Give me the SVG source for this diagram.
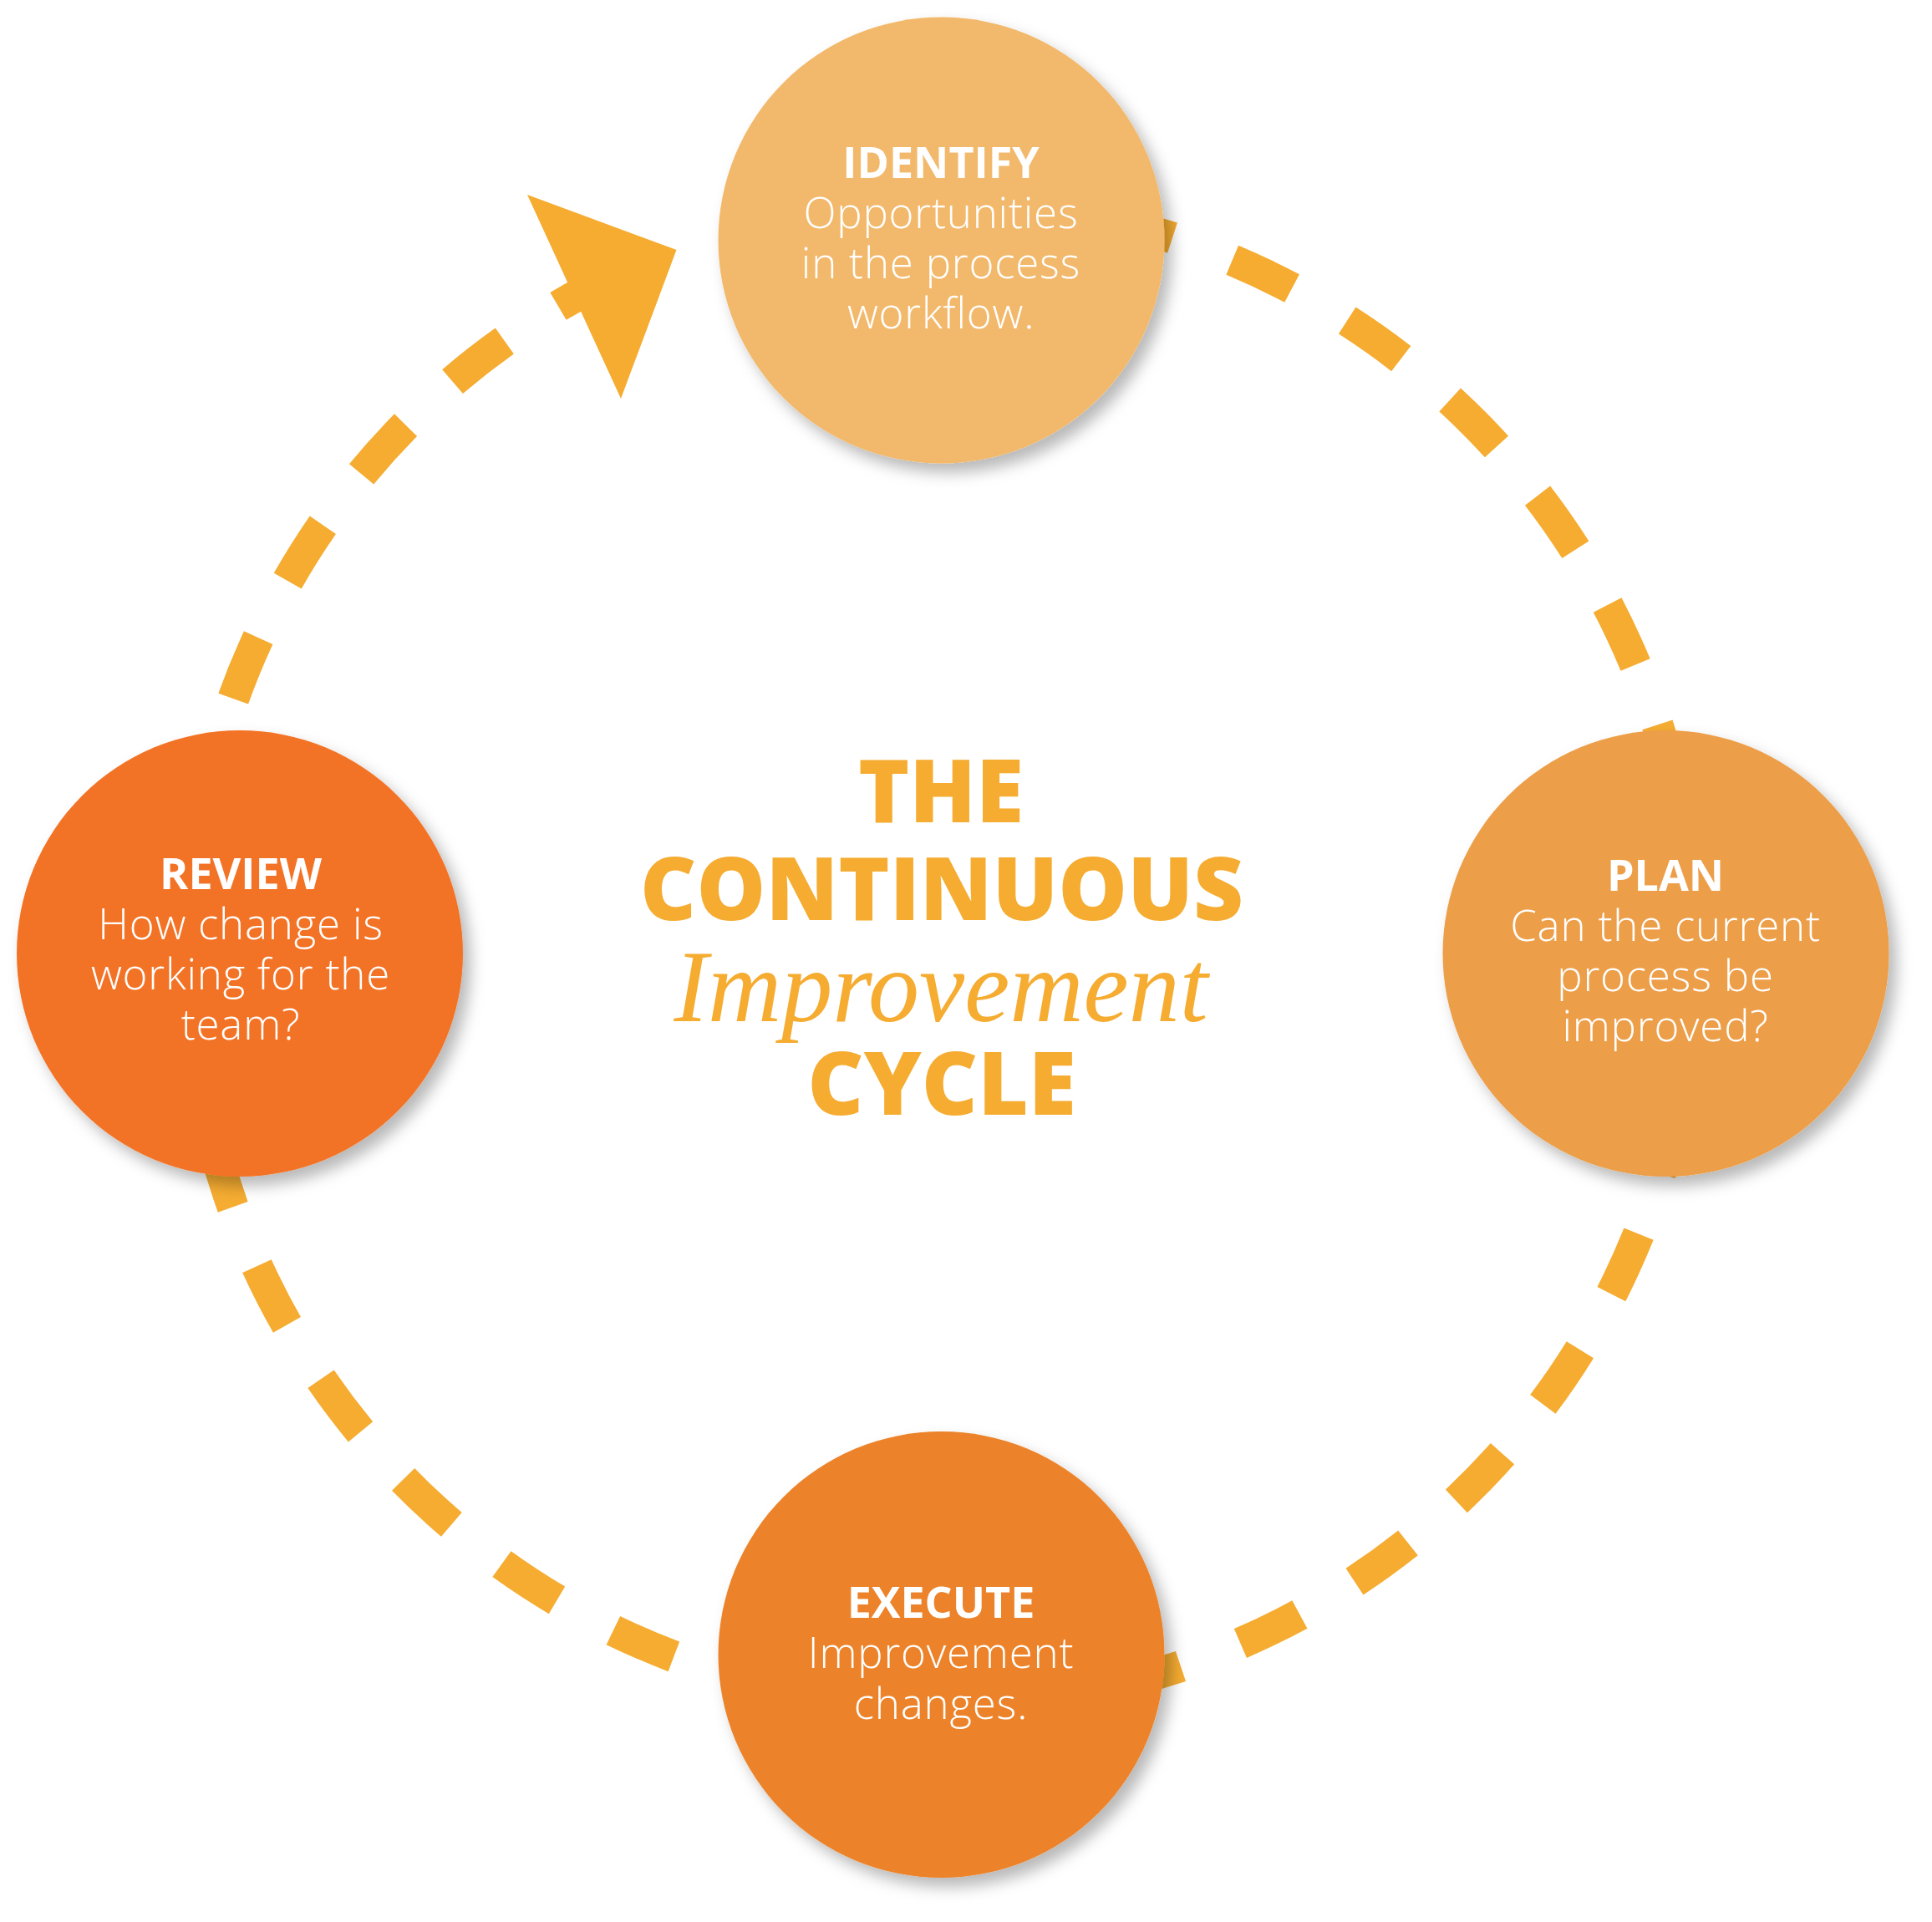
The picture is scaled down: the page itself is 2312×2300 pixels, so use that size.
<svg xmlns="http://www.w3.org/2000/svg" width="2312" height="2300" viewBox="0 0 2312 2300">
<defs>
<filter id="sh" x="-20%" y="-20%" width="140%" height="140%">
<feDropShadow dx="9" dy="11" stdDeviation="9" flood-color="#000" flood-opacity="0.28"/>
</filter>
<style>
.dash{fill:none;stroke:#F5AC31;stroke-width:38;stroke-dasharray:79 76.5;stroke-linecap:butt}
.head{font-family:"Open Sans","Liberation Sans",sans-serif;font-weight:700;font-size:52px;fill:#fff;text-anchor:middle}
.body{font-family:"Open Sans","Liberation Sans",sans-serif;font-weight:300;font-size:51px;letter-spacing:0.8px;fill:#fff;text-anchor:middle}
.title{font-family:"Open Sans","Liberation Sans",sans-serif;font-weight:800;font-size:104px;fill:#F5AC31;text-anchor:middle}
.script{font-family:"Liberation Serif",serif;font-style:italic;font-size:122px;fill:#F5AC31;text-anchor:middle}
</style>
</defs>
<rect width="2312" height="2300" fill="#fff"/>
<g id="connectors">
<path class="dash" d="M1326.9 263.7 A900 900 0 0 1 2004.0 943.1"/>
<path class="dash" d="M2006.3 1328.1 A900 900 0 0 1 1340.7 2015.0"/>
<path class="dash" d="M955.8 2024.8 A900 900 0 0 1 255.9 1370.9"/>
<path class="dash" d="M239.4 986.3 A900 900 0 0 1 737.1 329.4"/>
<polygon points="631,233 809.5,299 743,477" fill="#F5AC31"/>
</g>
<g id="identify">
<circle cx="1126.5" cy="287.5" r="267" fill="#F2B96C" filter="url(#sh)"/>
<text class="head" x="1126" y="213">IDENTIFY</text>
<text class="body" x="1126" y="273">Opportunities</text>
<text class="body" x="1126" y="333">in the process</text>
<text class="body" x="1126" y="393">workflow.</text>
</g>
<g id="plan">
<circle cx="1993.5" cy="1141" r="267" fill="#EC9E48" filter="url(#sh)"/>
<text class="head" x="1993" y="1066">PLAN</text>
<text class="body" x="1993" y="1126">Can the current</text>
<text class="body" x="1993" y="1186">process be</text>
<text class="body" x="1993" y="1246">improved?</text>
</g>
<g id="execute">
<circle cx="1126.5" cy="1980" r="267" fill="#EC832B" filter="url(#sh)"/>
<text class="head" x="1126" y="1936">EXECUTE</text>
<text class="body" x="1126" y="1996">Improvement</text>
<text class="body" x="1126" y="2057">changes.</text>
</g>
<g id="review">
<circle cx="287" cy="1141" r="267" fill="#F37325" filter="url(#sh)"/>
<text class="head" x="288" y="1064">REVIEW</text>
<text class="body" x="288" y="1124">How change is</text>
<text class="body" x="288" y="1184">working for the</text>
<text class="body" x="288" y="1244">team?</text>
</g>
<g id="title">
<text class="title" x="1126" y="984">THE</text>
<text class="title" x="1127" y="1101">CONTINUOUS</text>
<text class="script" x="1126" y="1222">Improvement</text>
<text class="title" x="1127" y="1334">CYCLE</text>
</g>
</svg>
